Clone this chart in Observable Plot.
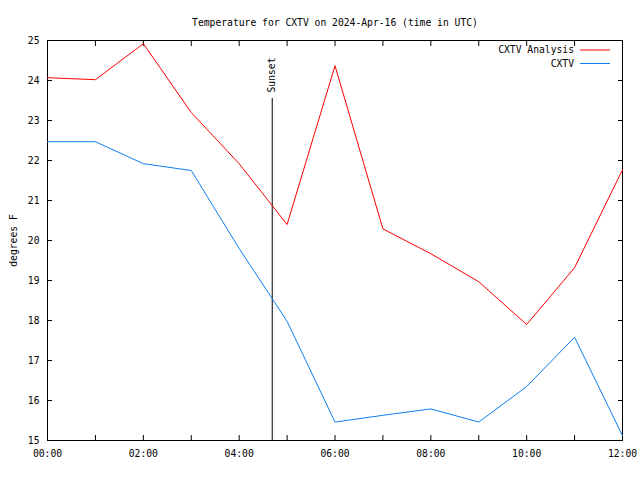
<!DOCTYPE html>
<html><head><meta charset="utf-8">
<script src="https://cdn.jsdelivr.net/npm/d3@7"></script>
<script src="https://cdn.jsdelivr.net/npm/@observablehq/plot@0.6"></script>
<style>body{margin:0;background:#fff} svg{display:block}</style>
</head><body><div id="chart"></div>
<script>
const hours = [0,1,2,3,4,5,6,7,8,9,10,11,12];
const analysis = [24.07,24.02,24.92,23.2,21.92,20.4,24.37,20.29,19.67,18.97,17.9,19.32,21.77];
const observed = [22.47,22.47,21.92,21.75,19.8,17.98,15.46,15.63,15.79,15.46,16.35,17.58,15.12];
const xTicks = [0,2,4,6,8,10,12];
const yTicks = [15,16,17,18,19,20,21,22,23,24,25];
const seriesNames = ["CXTV Analysis","CXTV"];
const seriesColors = ["#ff0000","#0a7ff0"];
const sunsetHour = 4.69;
const sunsetTop = 23.55;
const sunsetLabel = "Sunset";
const title = "Temperature for CXTV on 2024-Apr-16 (time in UTC)";
const yLabel = "degrees F";

const rows = hours.flatMap((h,i)=>[
  {hour:h,temp:analysis[i],series:seriesNames[0]},
  {hour:h,temp:observed[i],series:seriesNames[1]}
]);
const fmt = h => String(h).padStart(2,"0")+":00";
const blank = () => "";

const legend = (index, scales, values, dim) => {
  const g = d3.create("svg:g");
  const xr = dim.width - dim.marginRight;
  seriesNames.forEach((n,i)=>{
    const y = dim.marginTop + 10 + i*13.5;
    g.append("text").attr("x", xr-48).attr("y", y).attr("text-anchor","end")
      .attr("dy","0.32em").attr("fill","#000").text(n);
    g.append("line").attr("x1", xr-42).attr("x2", xr-12).attr("y1",y).attr("y2",y)
      .attr("stroke",seriesColors[i]).attr("stroke-width",1);
  });
  return g.node();
};

const chart = Plot.plot({
  width:640, height:480,
  marginTop:40, marginBottom:40, marginLeft:47, marginRight:18,
  style:{fontFamily:"DejaVu Sans Mono", fontSize:"9.7px", color:"#000", background:"#fff"},
  x:{domain:[0,12]},
  y:{domain:[15,25]},
  color:{domain:seriesNames, range:seriesColors},
  marks:[
    Plot.axisX({ticks:hours, tickSize:-5, tickFormat:blank, label:null}),
    Plot.axisX({anchor:"top", ticks:hours, tickSize:-5, tickFormat:blank, label:null}),
    Plot.axisX({ticks:xTicks, tickSize:0, tickPadding:10, tickFormat:fmt, label:null}),
    Plot.axisY({ticks:yTicks, tickSize:-5, tickFormat:blank, label:null}),
    Plot.axisY({anchor:"right", ticks:yTicks, tickSize:-5, tickFormat:blank, label:null}),
    Plot.axisY({ticks:yTicks, tickSize:0, tickPadding:8, label:yLabel, labelAnchor:"center", labelArrow:"none", labelOffset:37}),
    Plot.frame({stroke:"#000"}),
    Plot.ruleX([sunsetHour], {y1:sunsetTop, y2:15, stroke:"#000", strokeWidth:1}),
    Plot.text([sunsetLabel], {x:()=>sunsetHour, y:()=>sunsetTop, text:d=>d, rotate:-90, textAnchor:"start", dy:-6, fill:"#000"}),
    Plot.line(rows, {x:"hour", y:"temp", z:"series", stroke:"series", strokeWidth:1}),
    Plot.text([title], {frameAnchor:"top", dy:-21, text:d=>d, fill:"#000"}),
    legend
  ]
});
document.getElementById("chart").appendChild(chart);
</script>
</body></html>
